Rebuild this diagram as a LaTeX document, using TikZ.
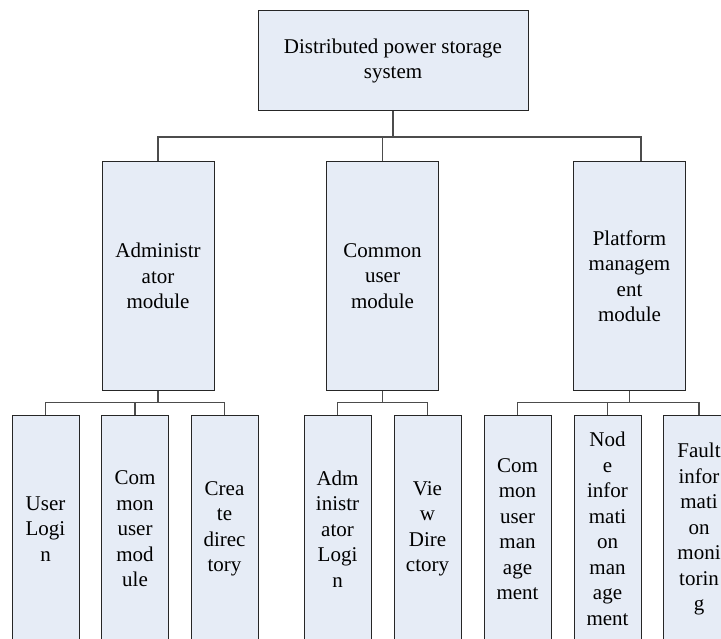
\documentclass[tikz,border=0pt]{standalone}
\usepackage{fontspec}
\setmainfont{Liberation Serif}
\newfontfamily\tnrfont{Liberation Serif}
\definecolor{boxfill}{RGB}{230,236,246}
\tikzset{
  box/.style={draw=black!85, fill=boxfill, line width=1pt, inner sep=0pt, align=center,
    font=\tnrfont\fontsize{21}{25.5}\selectfont},
  midbox/.style={box, minimum width=112pt, minimum height=228pt},
  leafbox/.style={box, minimum width=67pt, minimum height=228pt},
  conn/.style={draw=black!70, line width=1.3pt},
}
\begin{document}
\begin{tikzpicture}[x=1pt,y=-1pt]
\useasboundingbox (0,0) rectangle (721,639);
\clip (0,0) rectangle (721,639);
% top
\node[box, minimum width=270pt, minimum height=100.5pt] (top) at (393,60.75) {Distributed power storage\\system};
% middle
\node[midbox] (admin) at (158,276) {Administr\\ator\\module};
\node[midbox] (common) at (382.5,276) {Common\\user\\module};
\node[midbox] (platform) at (629.5,276) {Platform\\managem\\ent\\module};
% leaves
\node[leafbox] (b1) at (45.5,529) {User\\Logi\\n};
\node[leafbox] (b2) at (135,529) {Com\\mon\\user\\mod\\ule};
\node[leafbox] (b3) at (224.5,529) {Crea\\te\\direc\\tory};
\node[leafbox] (b4) at (337.5,529) {Adm\\inistr\\ator\\Logi\\n};
\node[leafbox] (b5) at (427.5,529) {Vie\\w\\Dire\\ctory};
\node[leafbox] (b6) at (517.5,529) {Com\\mon\\user\\man\\age\\ment};
\node[leafbox] (b7) at (607.5,529) {Nod\\e\\infor\\mati\\on\\man\\age\\ment};
\node[leafbox, minimum width=72pt] (b8) at (699,529) {Fault\\infor\\mati\\on\\moni\\torin\\g};
% bus levels
\coordinate (busA) at (0,137);
\coordinate (busB) at (0,402.5);
\coordinate (pfTop) at ([xshift=11.5pt]platform.north);
% top level connectors
\draw[conn] (top.south) -- (top.south |- busA);
\draw[conn] (admin.north) -- (admin.north |- busA) -- (pfTop |- busA) -- (pfTop);
\draw[conn] (common.north) -- (common.north |- busA);
% admin children
\draw[conn] (admin.south) -- (admin.south |- busB);
\draw[conn] (b1.north) -- (b1.north |- busB) -- (b3.north |- busB) -- (b3.north);
\draw[conn] (b2.north) -- (b2.north |- busB);
% common children
\draw[conn] (common.south) -- (common.south |- busB);
\draw[conn] (b4.north) -- (b4.north |- busB) -- (b5.north |- busB) -- (b5.north);
% platform children
\draw[conn] (platform.south) -- (platform.south |- busB);
\draw[conn] (b6.north) -- (b6.north |- busB) -- (b8.north |- busB) -- (b8.north);
\draw[conn] (b7.north) -- (b7.north |- busB);
\end{tikzpicture}
\end{document}
